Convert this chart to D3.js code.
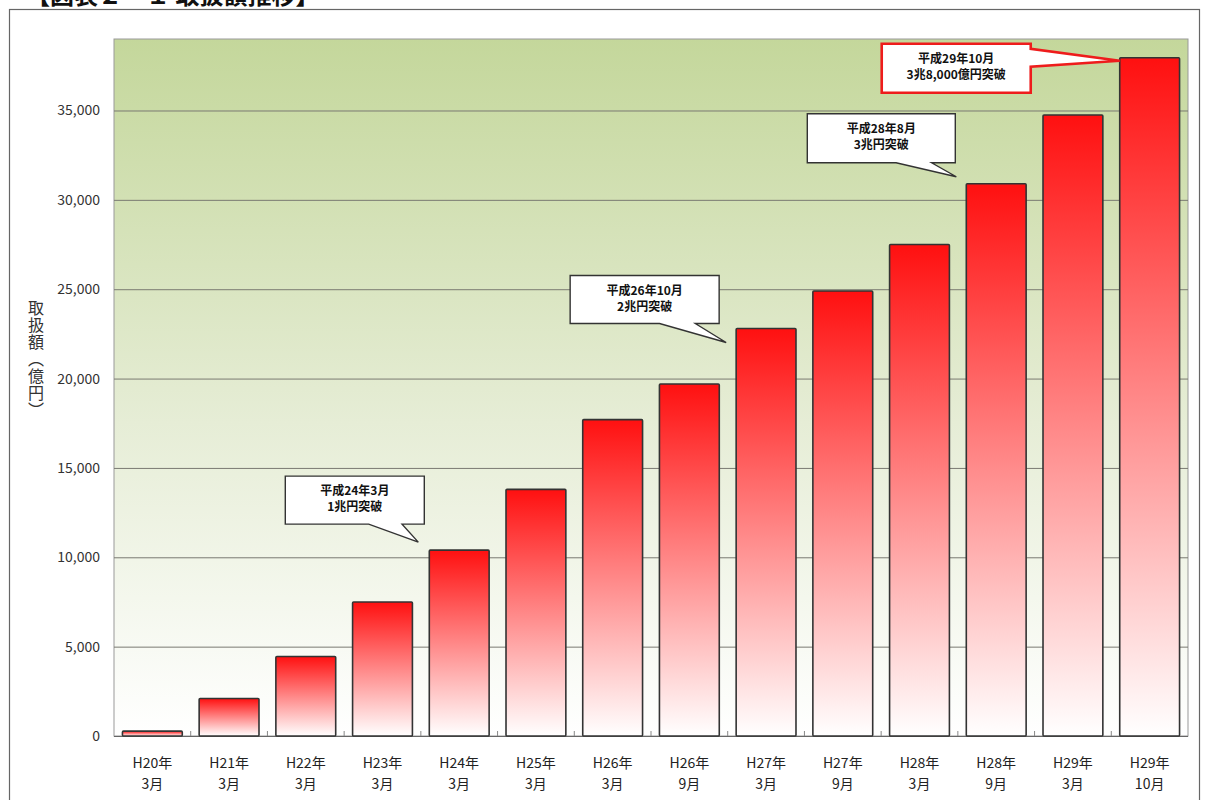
<!DOCTYPE html>
<html>
<head>
<meta charset="utf-8">
<script src="https://cdn.jsdelivr.net/npm/d3@7"></script>
<style>
  body { margin: 0; background: #fff; }
  svg text { font-family: "Noto Sans CJK JP", "DejaVu Sans", sans-serif; }
</style>
</head>
<body>
<div id="plot"></div>
<script>
// Data
const periods = ["H20年|3月", "H21年|3月", "H22年|3月", "H23年|3月", "H24年|3月", "H25年|3月",
  "H26年|3月", "H26年|9月", "H27年|3月", "H27年|9月", "H28年|3月", "H28年|9月", "H29年|3月", "H29年|10月"];
const amounts = [270, 2100, 4450, 7500, 10400, 13800, 17700, 19700, 22800, 24900, 27500, 30900, 34750, 37950];
const yTicks = [0, 5000, 10000, 15000, 20000, 25000, 30000, 35000];

// Callouts: text lines and which bar they point at
const calloutLines = [
  ["平成24年3月", "1兆円突破"],
  ["平成26年10月", "2兆円突破"],
  ["平成28年8月", "3兆円突破"],
  ["平成29年10月", "3兆8,000億円突破"]
];
const calloutBar = [4, 8, 11, 13];

const W = 1210, H = 800;
const plotLeft = 114, plotRight = 1188, plotTop = 39, plotBottom = 736;

const svg = d3.select("#plot")
  .append("svg")
  .attr("width", W)
  .attr("height", H);

const defs = svg.append("defs");
const bg = defs.append("linearGradient").attr("id", "bg")
  .attr("x1", 0).attr("y1", 0).attr("x2", 0).attr("y2", 1);
bg.append("stop").attr("offset", "0%").attr("stop-color", "#c4d79b");
bg.append("stop").attr("offset", "55%").attr("stop-color", "#e6edd6");
bg.append("stop").attr("offset", "100%").attr("stop-color", "#ffffff");

const barGrad = defs.append("linearGradient").attr("id", "barGrad")
  .attr("x1", 0).attr("y1", 0).attr("x2", 0).attr("y2", 1);
barGrad.append("stop").attr("offset", "0%").attr("stop-color", "#ff1010");
barGrad.append("stop").attr("offset", "100%").attr("stop-color", "#ffffff");

// Title (cut off at the top of the picture, as in the original)
svg.append("text")
  .attr("x", 26).attr("y", 4)
  .attr("font-size", 24).attr("font-weight", "bold").attr("fill", "#111")
  .text("【図表２－１ 取扱額推移】");

// Outer frame
svg.append("rect")
  .attr("x", 9.5).attr("y", 9.5)
  .attr("width", 1190).attr("height", 820)
  .attr("fill", "none").attr("stroke", "#666").attr("stroke-width", 1.2);

// Scales
const xScale = d3.scaleBand().domain(periods).range([plotLeft, plotRight])
  .paddingInner(0.22).paddingOuter(0.11);
const yScale = d3.scaleLinear().domain([0, 39000]).range([plotBottom, plotTop]);

// Plot background
svg.append("rect")
  .attr("x", plotLeft).attr("y", plotTop)
  .attr("width", plotRight - plotLeft).attr("height", plotBottom - plotTop)
  .attr("fill", "url(#bg)")
  .attr("stroke", "#999").attr("stroke-width", 1);

// Gridlines
svg.append("g")
  .selectAll("line")
  .data(yTicks.filter(d => d > 0))
  .enter().append("line")
  .attr("x1", plotLeft).attr("x2", plotRight)
  .attr("y1", d => yScale(d) + 0.5).attr("y2", d => yScale(d) + 0.5)
  .attr("stroke", "#7a7a72").attr("stroke-width", 1);

// Y axis labels
const yAxis = svg.append("g")
  .attr("transform", `translate(${plotLeft}, 0)`)
  .call(d3.axisLeft(yScale).tickValues(yTicks).tickSize(0).tickPadding(14)
    .tickFormat(d3.format(",")));
yAxis.select(".domain").remove();
yAxis.selectAll("text")
  .attr("font-size", 14).attr("fill", "#333")
  .style("font-family", "\"Noto Sans CJK JP\", sans-serif");

// Y axis title (vertical)
svg.append("text")
  .attr("x", 36).attr("y", 300)
  .attr("font-size", 16).attr("fill", "#333")
  .style("writing-mode", "vertical-rl")
  .style("letter-spacing", "1px")
  .text("取扱額（億円）");

// Baseline and category ticks
svg.append("line")
  .attr("x1", plotLeft).attr("x2", plotRight)
  .attr("y1", plotBottom + 0.5).attr("y2", plotBottom + 0.5)
  .attr("stroke", "#666").attr("stroke-width", 1.2);
svg.append("g")
  .selectAll("line")
  .data(periods.slice(1))
  .enter().append("line")
  .attr("x1", d => xScale(d) - xScale.step() * xScale.paddingInner() / 2)
  .attr("x2", d => xScale(d) - xScale.step() * xScale.paddingInner() / 2)
  .attr("y1", plotBottom).attr("y2", plotBottom - 5)
  .attr("stroke", "#888").attr("stroke-width", 1);

// Bars
svg.append("g")
  .selectAll("rect")
  .data(amounts)
  .enter().append("rect")
  .attr("x", (d, i) => xScale(periods[i]))
  .attr("y", d => yScale(d))
  .attr("width", xScale.bandwidth())
  .attr("height", d => plotBottom - yScale(d))
  .attr("rx", 1)
  .attr("fill", "url(#barGrad)")
  .attr("stroke", "#333").attr("stroke-width", 1.6);

// X axis labels (two lines)
const xl = svg.append("g")
  .selectAll("text")
  .data(periods)
  .enter().append("text")
  .attr("x", d => xScale(d) + xScale.bandwidth() / 2)
  .attr("text-anchor", "middle")
  .attr("font-size", 14).attr("fill", "#222");
xl.append("tspan")
  .attr("x", d => xScale(d) + xScale.bandwidth() / 2)
  .attr("y", 768)
  .text(d => d.split("|")[0]);
xl.append("tspan")
  .attr("x", d => xScale(d) + xScale.bandwidth() / 2)
  .attr("y", 789)
  .text(d => d.split("|")[1]);

// Callout layout relative to the bar's top-left corner (box offset, size, tail tip offset)
const calloutBox = [
  {dx: -144, dy: -74, w: 139, h: 48, tx: -11, ty: -8},
  {dx: -166, dy: -53, w: 149, h: 48, tx: -10, ty: 14},
  {dx: -159, dy: -70, w: 148, h: 49, tx: -10, ty: -7},
  {dx: -238, dy: -14, w: 149, h: 49, tx: 0, ty: 3}
];

calloutLines.forEach((lines, k) => {
  const bi = calloutBar[k];
  const bx = xScale(periods[bi]);
  const by = yScale(amounts[bi]);
  const b = calloutBox[k];
  const x0 = bx + b.dx, y0 = by + b.dy, x1 = x0 + b.w, y1 = y0 + b.h;
  const tx = bx + b.tx, ty = by + b.ty;
  const red = k === 3;
  let path;
  if (!red) {
    // tail from bottom edge toward the bar
    const t0 = x0 + b.w * 0.6, t1 = x0 + b.w * 0.84;
    path = `M${x0},${y0}H${x1}V${y1}H${t1}L${tx},${ty}L${t0},${y1}H${x0}Z`;
  } else {
    // tail from right edge toward the last bar
    path = `M${x0},${y0}H${x1}V${y0 + 5}L${tx},${ty}L${x1},${y0 + 23}V${y1}H${x0}Z`;
  }
  svg.append("path")
    .attr("d", path)
    .attr("fill", "#fff")
    .attr("stroke", red ? "#ee1c1c" : "#333")
    .attr("stroke-width", red ? 2.6 : 1.4)
    .attr("stroke-linejoin", "miter");
  const t = svg.append("text")
    .attr("text-anchor", "middle")
    .attr("font-size", 12).attr("font-weight", "bold").attr("fill", "#111");
  lines.forEach((line, j) => {
    t.append("tspan")
      .attr("x", (x0 + x1) / 2)
      .attr("y", y0 + 19 + j * 16)
      .text(line);
  });
});
</script>
</body>
</html>
